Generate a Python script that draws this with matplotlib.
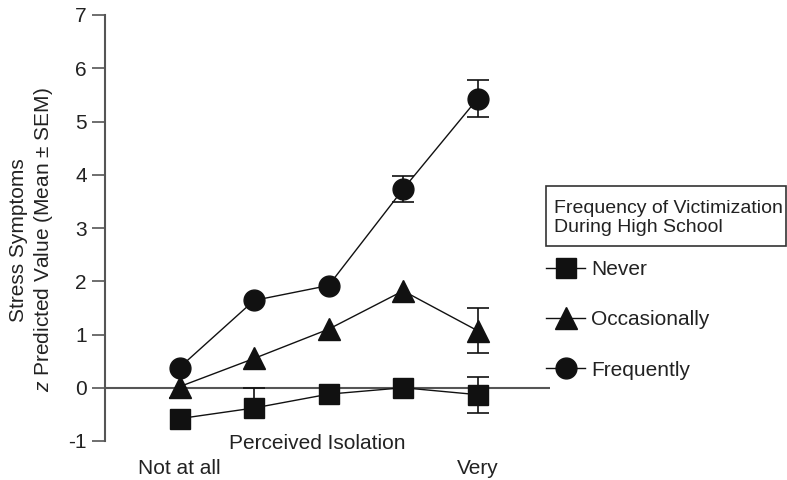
import matplotlib.pyplot as plt
from matplotlib.lines import Line2D
from matplotlib.patches import Rectangle

plt.rcParams['font.family'] = ['Liberation Sans', 'DejaVu Sans']
plt.rcParams['mathtext.fontset'] = 'custom'
plt.rcParams['mathtext.rm'] = 'Liberation Sans'
plt.rcParams['mathtext.it'] = 'Liberation Sans:italic'
plt.rcParams['axes.unicode_minus'] = False

# perceived isolation levels (5 points, only ends labelled)
levels = [0, 1, 2, 3, 4]
tick_labels = ['Not at all', '', '', '', 'Very']

# SEM values; 0 where the bar is hidden behind the marker
never = [-0.58, -0.38, -0.12, 0.0, -0.13]
never_err_lo = [0, 0, 0, 0, 0.34]
never_err_hi = [0, 0.38, 0, 0, 0.33]
occasionally = [0.02, 0.55, 1.10, 1.82, 1.07]
occasionally_err_lo = [0.21, 0, 0, 0, 0.42]
occasionally_err_hi = [0, 0, 0, 0, 0.42]
frequently = [0.38, 1.64, 1.92, 3.73, 5.43]
frequently_err_lo = [0, 0, 0, 0.25, 0.35]
frequently_err_hi = [0, 0, 0, 0.25, 0.35]

series_names = ['Never', 'Occasionally', 'Frequently']
markers = ['s', '^', 'o']

ink = '#111111'
axis_col = '#555555'
txt = '#222222'
fs = 15

fig = plt.figure(figsize=(7.87, 4.8), dpi=100)
ax = fig.add_axes([105 / 787, 39 / 480, 445 / 787, 426 / 480])

ax.axhline(0, color=axis_col, lw=1.5, zorder=1)

handles = []
series = [(never, never_err_lo, never_err_hi),
          (occasionally, occasionally_err_lo, occasionally_err_hi),
          (frequently, frequently_err_lo, frequently_err_hi)]
for (vals, lo, hi), m, name in zip(series, markers, series_names):
    # error bars: stem plus a cap at each end that sticks out of the marker
    for x, v, l, h in zip(levels, vals, lo, hi):
        for end in [v - l if l else None, v + h if h else None]:
            if end is None:
                continue
            ax.vlines(x, v, end, color=ink, lw=1.2, zorder=2)
            ax.plot([x], [end], marker='_', ms=16, mew=1.2, color=ink, zorder=2)
    ms = 16 if m == '^' else 15
    ax.plot(levels, vals, color=ink, lw=1, marker=m, ms=ms, mfc=ink, mec=ink, zorder=3)
    handles.append(Line2D([], [], color=ink, lw=1, marker=m, ms=ms, mfc=ink, mec=ink))

ax.set_xlim(-1.0, 4.97)
ax.set_ylim(-1, 7)
ax.set_yticks(range(-1, 8))
ax.set_xticks(levels)
ax.set_xticklabels(tick_labels, fontsize=fs, color=txt)
ax.tick_params(axis='x', length=0, pad=13)
ax.tick_params(axis='y', length=9.5, width=1.2, color=axis_col, labelsize=fs,
               labelcolor=txt, pad=3.5)
for s in ['top', 'right', 'bottom']:
    ax.spines[s].set_visible(False)
ax.spines['left'].set_color(axis_col)
ax.spines['left'].set_linewidth(1.5)

ax.text(1.85, -1.05, 'Perceived Isolation', fontsize=fs, color=txt,
        ha='center', va='center')

fig.text(19 / 787, 0.5, 'Stress Symptoms', rotation=90, fontsize=fs,
         color=txt, ha='center', va='center')
fig.text(44 / 787, 0.5, '$z$ Predicted Value (Mean \u00b1 SEM)', rotation=90,
         fontsize=fs, color=txt, ha='center', va='center')

# legend title box
fig.patches.append(Rectangle((546 / 787, (480 - 246) / 480), 240 / 787, 60 / 480,
                             transform=fig.transFigure, fill=False,
                             edgecolor='#333333', lw=1.2))
fig.text(554 / 787, (480 - 218) / 480, 'Frequency of Victimization\nDuring High School',
         fontsize=14, color=txt, ha='left', va='center', linespacing=1.15)

fig.legend(handles, series_names, loc='upper left',
           bbox_to_anchor=(546 / 787, (480 - 260) / 480), frameon=False,
           fontsize=fs, labelspacing=1.5, handlelength=1.875, handletextpad=0.3,
           borderpad=0, borderaxespad=0, labelcolor=txt)

fig.savefig('out.png', dpi=100)
